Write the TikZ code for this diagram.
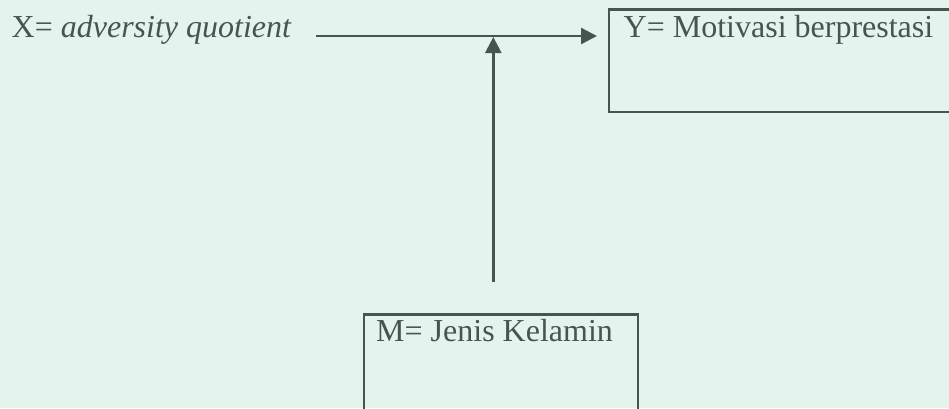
\documentclass[tikz,border=0pt]{standalone}
\usepackage{fontspec}
\setmainfont{Liberation Serif}
\usetikzlibrary{arrows.meta}
\definecolor{ink}{RGB}{72,84,78}
\definecolor{paper}{RGB}{229,243,238}
\begin{document}
\begin{tikzpicture}[x=1pt,y=-1pt,
  box/.style={draw=ink, line width=2.4pt, inner sep=0pt, anchor=north west},
  lbl/.style={text=ink, inner sep=0pt, anchor=base west, font=\fontsize{32}{38}\selectfont},
  arr/.style={draw=ink, line width=2.4pt, -{Triangle[length=16pt,width=16pt]}}]
\fill[paper] (0,0) rectangle (949,408);
\useasboundingbox (0,0) rectangle (949,408);
% boxes
\node[box, minimum width=360pt, minimum height=102.7pt] (ybox) at (607.7,8.3) {};
\node[box, minimum width=274pt, minimum height=120pt] (mbox) at (362.7,313.3) {};
% labels
\node[lbl] (xvar) at (11.5,37) {X= \textit{adversity quotient}};
\node[lbl] (yvar) at (623.5,37) {Y= Motivasi berprestasi};
\node[lbl] (mvar) at (376,341.7) {M= Jenis Kelamin};
% arrows
\coordinate (xa) at (316,36);
\coordinate (join) at (493.3,36);
\draw[arr, shorten >=10.7pt] (xa) -- (xa -| ybox.west);
\draw[arr, shorten <=31.6pt, shorten >=1pt] (mbox.north -| join) -- (join);
\end{tikzpicture}
\end{document}
